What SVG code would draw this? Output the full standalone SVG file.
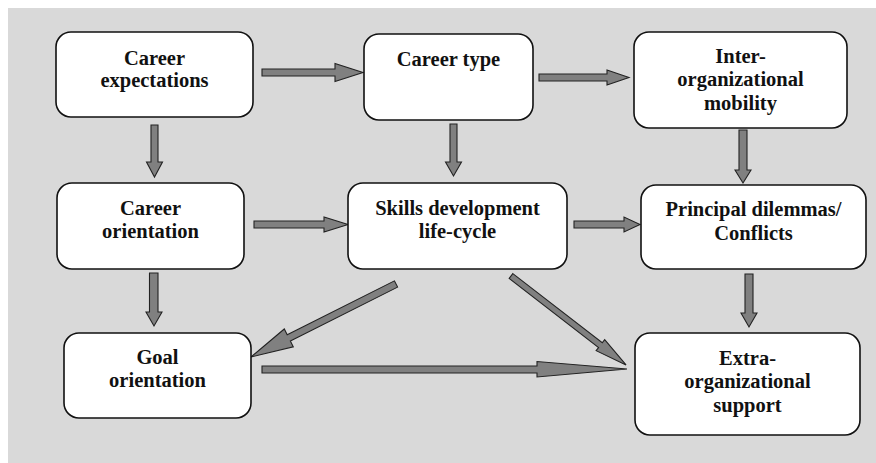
<svg xmlns="http://www.w3.org/2000/svg" width="876" height="463" viewBox="0 0 876 463">
<style>
.box{fill:#ffffff;stroke:#111111;stroke-width:1.6}
.lbl{font-family:'Liberation Serif','Times New Roman',serif;font-weight:bold;font-size:20.5px;fill:#111111;text-anchor:middle}
.arr{fill:#808080;stroke:#222222;stroke-width:1.1;stroke-linejoin:miter}
</style>
<rect x="8" y="8" width="868" height="455" fill="#d9d9d9"/>
<g id="connectors">
<polygon class="arr" points="262,69 335,69 335,63.5 363,72.5 335,81.5 335,76 262,76"/>
<polygon class="arr" points="539,74 607,74 607,70 629,77.5 607,85 607,81 539,81"/>
<polygon class="arr" points="151,125 158,125 158,162 162.5,162 154.5,177 146.5,162 151,162"/>
<polygon class="arr" points="450,124 457,124 457,162 461.5,162 453.5,176 445.5,162 450,162"/>
<polygon class="arr" points="739,130 747,130 747,170 751,170 743,183 735,170 739,170"/>
<polygon class="arr" points="254,221 324,221 324,217 348,224.5 324,232 324,228 254,228"/>
<polygon class="arr" points="574,221 624,221 624,217 640,224.5 624,232 624,228 574,228"/>
<polygon class="arr" points="149.5,273 158,273 158,312 162,312 154,326 146,312 149.5,312"/>
<polygon class="arr" points="745,274 753,274 753,313 757,313 749,327 741,313 745,313"/>
<polygon class="arr" points="262,366 537,366 537,361.5 627,369 537,377 537,373 262,373"/>
<polygon class="arr" transform="translate(396,284) rotate(153.3)" points="0,-3.5 120,-3.5 120,-10 162.3,0 120,10 120,3.5 0,3.5"/>
<polygon class="arr" transform="translate(511,276) rotate(37.7)" points="0,-3 113,-3 113,-7 145.4,0 113,7 113,3 0,3"/>
</g>
<g id="career-expectations">
<rect class="box" x="56" y="32" width="197" height="85" rx="15"/>
<text class="lbl" x="154.5" y="65">Career</text>
<text class="lbl" x="154.5" y="87">expectations</text>
</g>
<g id="career-type">
<rect class="box" x="364" y="34" width="169" height="86" rx="15"/>
<text class="lbl" x="448.5" y="66">Career type</text>
</g>
<g id="inter-organizational-mobility">
<rect class="box" x="634" y="32" width="213" height="96" rx="15"/>
<text class="lbl" x="740.5" y="63">Inter-</text>
<text class="lbl" x="740.5" y="86">organizational</text>
<text class="lbl" x="740.5" y="110">mobility</text>
</g>
<g id="career-orientation">
<rect class="box" x="57" y="183" width="187" height="86" rx="15"/>
<text class="lbl" x="150.5" y="215">Career</text>
<text class="lbl" x="150.5" y="238">orientation</text>
</g>
<g id="skills-development">
<rect class="box" x="348" y="183" width="219" height="86" rx="15"/>
<text class="lbl" x="457.5" y="215">Skills development</text>
<text class="lbl" x="457.5" y="238">life-cycle</text>
</g>
<g id="principal-dilemmas">
<rect class="box" x="641" y="185" width="225" height="84" rx="15"/>
<text class="lbl" x="753.5" y="216">Principal dilemmas/</text>
<text class="lbl" x="753.5" y="240">Conflicts</text>
</g>
<g id="goal-orientation">
<rect class="box" x="64" y="333" width="187" height="85" rx="15"/>
<text class="lbl" x="157.5" y="364">Goal</text>
<text class="lbl" x="157.5" y="387">orientation</text>
</g>
<g id="extra-organizational-support">
<rect class="box" x="635" y="333" width="225" height="102" rx="15"/>
<text class="lbl" x="747.5" y="365">Extra-</text>
<text class="lbl" x="747.5" y="388">organizational</text>
<text class="lbl" x="747.5" y="412">support</text>
</g>
</svg>
